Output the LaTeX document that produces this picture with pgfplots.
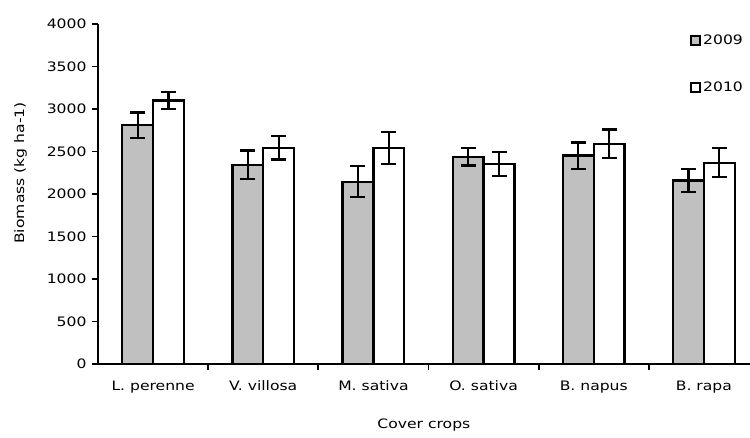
\documentclass[border=0pt]{standalone}
\usepackage{fontspec}
\setmainfont{DejaVu Sans}[FakeStretch=1.2]
\usepackage{pgfplots}
\pgfplotsset{compat=1.18}
\definecolor{barsilver}{RGB}{192,192,192}
\begin{document}
\fontsize{13pt}{15pt}\selectfont
\begin{tikzpicture}
\useasboundingbox (-98pt,-73pt) rectangle (652pt,364pt);
\begin{axis}[
  at={(0pt,0pt)}, anchor=south west,
  scale only axis, width=661pt, height=340pt,
  xmin=-0.5, xmax=5.5, ymin=0, ymax=4000,
  axis x line*=bottom, axis y line*=left,
  axis line style={line width=2pt, black},
  /pgf/number format/assume math mode=true,
  ytick={0,500,...,4000},
  yticklabel style={/pgf/number format/1000 sep={}},
  y tick label style={xshift=-1pt},
  tick align=outside,
  major tick length=6pt,
  ytick style={line width=1.8pt, black},
  xtick={0,1,2,3,4,5},
  xticklabels={L. perenne, V. villosa, M. sativa, O. sativa, B. napus, B. rapa},
  xtick style={draw=none},
  x tick label style={yshift=-6pt},
  extra x ticks={0.5,1.5,2.5,3.5,4.5},
  extra x tick labels={},
  extra x tick style={xtick style={draw=black, line width=1.8pt}, grid=none},
  ybar=0pt, bar width=0.28,
  xlabel={Cover crops},
  xlabel style={at={(axis description cs:0.493,0)}, anchor=center, yshift=-61pt},
  ylabel={Biomass (kg ha-1)},
  ylabel style={at={(axis description cs:-0.1172,0.562)}, anchor=center},
  legend style={at={(axis description cs:0.8956,0.974)}, anchor=north west, draw=none, fill=none, row sep=31pt, inner sep=0pt, font=\fontsize{13pt}{15pt}\selectfont},
  legend cell align=left,
  legend image code/.code={\draw[#1, line width=2pt] (-3pt,-4.5pt) rectangle (6pt,4.5pt);},
]
\addplot[fill=barsilver, draw=black, line width=2.2pt,
  error bars/.cd, y dir=both, y explicit,
  error bar style={line width=2.2pt, black},
  error mark options={black, rotate=90, mark size=7.5pt, line width=2.2pt}]
  coordinates {(0,2810) +- (0,150) (1,2345) +- (0,167) (2,2145) +- (0,184) (3,2437) +- (0,102) (4,2452) +- (0,155) (5,2160) +- (0,133)};
\addplot[fill=white, draw=black, line width=2.2pt,
  error bars/.cd, y dir=both, y explicit,
  error bar style={line width=2.2pt, black},
  error mark options={black, rotate=90, mark size=7.5pt, line width=2.2pt}]
  coordinates {(0,3100) +- (0,104) (1,2542) +- (0,137) (2,2543) +- (0,186) (3,2352) +- (0,143) (4,2590) +- (0,170) (5,2368) +- (0,170)};
\legend{2009,2010}
\end{axis}
\end{tikzpicture}
\end{document}
